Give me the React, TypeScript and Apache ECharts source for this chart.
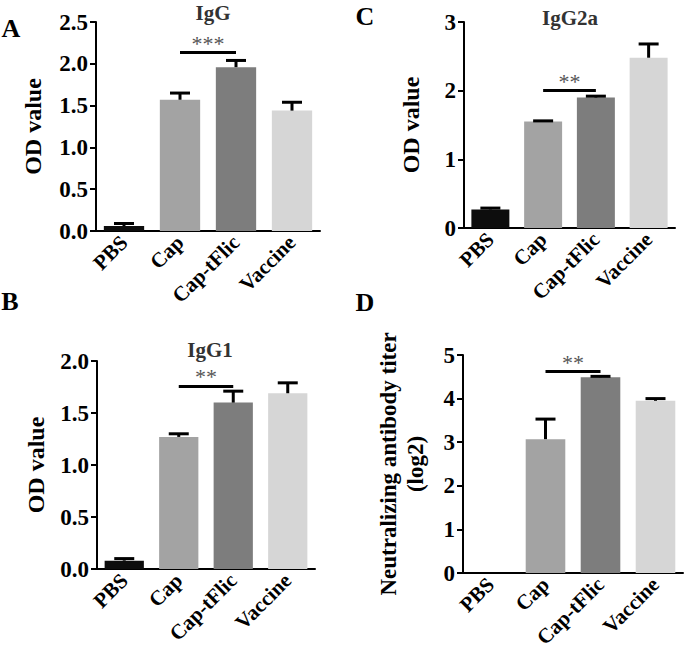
import React, { useEffect, useRef } from "react";
import * as echarts from "echarts";

const categories = ["PBS", "Cap", "Cap-tFlic", "Vaccine"];
const barColors = ["#0d0d0d", "#a3a3a3", "#7d7d7d", "#d6d6d6"];

const iggMean = [0.06, 1.57, 1.96, 1.44];
const iggErr = [0.03, 0.08, 0.08, 0.1];
const igg2aMean = [0.27, 1.55, 1.9, 2.48];
const igg2aErr = [0.02, 0.01, 0.02, 0.2];
const igg1Mean = [0.08, 1.27, 1.6, 1.69];
const igg1Err = [0.02, 0.03, 0.11, 0.1];
const ntMean = [0, 3.07, 4.49, 3.95];
const ntErr = [0, 0.46, 0.02, 0.05];

// significance brackets: [from, to, level, label]
const sigA = ["Cap", "Cap-tFlic", 2.14, "***"];
const sigC = ["Cap", "Cap-tFlic", 2.0, "**"];
const sigB = ["Cap", "Cap-tFlic", 1.76, "**"];
const sigD = ["Cap", "Cap-tFlic", 4.63, "**"];

const FONT = "Liberation Serif";

export default function App() {
  const ref = useRef<HTMLDivElement>(null);
  useEffect(() => {
    if (!ref.current) return;
    const chart = echarts.init(ref.current, null, { renderer: "svg" });

    const grids = [
      { left: 96, top: 22, width: 224, height: 209 },
      { left: 464, top: 22, width: 211, height: 206 },
      { left: 97, top: 361, width: 218, height: 208 },
      { left: 463, top: 355, width: 220, height: 218 },
    ];
    const panels = [
      { mean: iggMean, err: iggErr, max: 2.5, interval: 0.5, dec: 1, sig: sigA, name: "OD value", gap: 50 },
      { mean: igg2aMean, err: igg2aErr, max: 3, interval: 1, dec: 0, sig: sigC, name: "OD value", gap: 40 },
      { mean: igg1Mean, err: igg1Err, max: 2, interval: 0.5, dec: 1, sig: sigB, name: "OD value", gap: 48 },
      { mean: ntMean, err: ntErr, max: 5, interval: 1, dec: 0, sig: sigD, name: "Neutralizing antibody titer\n(log2)", gap: 34 },
    ];

    const xAxis = panels.map((_, i) => ({
      type: "category",
      gridIndex: i,
      data: categories,
      axisLine: { lineStyle: { color: "#000", width: 2 } },
      axisTick: { alignWithLabel: true, length: 6, lineStyle: { color: "#000", width: 2 } },
      axisLabel: {
        rotate: 45,
        interval: 0,
        margin: 8,
        color: "#000",
        fontFamily: FONT,
        fontWeight: "bold",
        fontSize: 21,
      },
    }));

    const yAxis = panels.map((p, i) => ({
      type: "value",
      gridIndex: i,
      min: 0,
      max: p.max,
      interval: p.interval,
      name: p.name,
      nameLocation: "middle",
      nameGap: p.gap,
      nameTextStyle: {
        color: "#000",
        fontFamily: FONT,
        fontWeight: "bold",
        fontSize: i === 3 ? 23 : 24,
        lineHeight: 27,
      },
      axisLine: { show: true, lineStyle: { color: "#000", width: 2 } },
      axisTick: { show: true, length: 6, lineStyle: { color: "#000", width: 2 } },
      splitLine: { show: false },
      axisLabel: {
        color: "#000",
        fontFamily: FONT,
        fontWeight: "bold",
        fontSize: 23,
        margin: 8,
        formatter: (v: number) => v.toFixed(p.dec),
      },
    }));

    const series: any[] = [];
    panels.forEach((p, i) => {
      series.push({
        type: "bar",
        xAxisIndex: i,
        yAxisIndex: i,
        barWidth: "72%",
        data: p.mean.map((v, k) => ({ value: v, itemStyle: { color: barColors[k] } })),
        markLine: {
          silent: true,
          symbol: "none",
          lineStyle: { color: "#000", width: 3, type: "solid" },
          label: {
            show: true,
            position: "middle",
            formatter: p.sig[3] as string,
            color: "#555",
            fontFamily: FONT,
            fontSize: 22,
            distance: -2,
          },
          data: [[{ coord: [p.sig[0], p.sig[2]] }, { coord: [p.sig[1], p.sig[2]] }]],
        },
      });
      series.push({
        type: "custom",
        xAxisIndex: i,
        yAxisIndex: i,
        z: 5,
        data: p.mean.map((v, k) => [k, v, v + p.err[k]]),
        renderItem: (params: any, api: any) => {
          const lo = api.coord([api.value(0), api.value(1)]);
          const hi = api.coord([api.value(0), api.value(2)]);
          if (Math.abs(lo[1] - hi[1]) < 0.5 && api.value(1) === 0) return null;
          const half = 10;
          const style = { stroke: "#000", lineWidth: 3 };
          return {
            type: "group",
            children: [
              { type: "line", shape: { x1: lo[0], y1: lo[1], x2: hi[0], y2: hi[1] }, style },
              { type: "line", shape: { x1: hi[0] - half, y1: hi[1], x2: hi[0] + half, y2: hi[1] }, style },
            ],
          };
        },
      });
    });

    const txt = (text: string, x: number, y: number, size: number, fill: string) => ({
      type: "text",
      x,
      y,
      style: {
        text,
        fill,
        fontFamily: FONT,
        fontWeight: "bold",
        fontSize: size,
        align: "center",
        verticalAlign: "middle",
      },
    });

    chart.setOption({
      animation: false,
      backgroundColor: "#fff",
      grid: grids,
      xAxis,
      yAxis,
      series,
      graphic: [
        txt("A", 11, 28, 26, "#000"),
        txt("B", 10, 301, 26, "#000"),
        txt("C", 365, 16, 26, "#000"),
        txt("D", 365, 302, 26, "#000"),
        txt("IgG", 213, 13, 21, "#333"),
        txt("IgG2a", 570, 18, 21, "#333"),
        txt("IgG1", 210, 350, 21, "#333"),
      ],
    });
    return () => chart.dispose();
  }, []);
  return (
    <div
      ref={ref}
      style={{ position: "absolute", left: 0, top: 0, width: 685, height: 661, background: "#fff" }}
    />
  );
}
